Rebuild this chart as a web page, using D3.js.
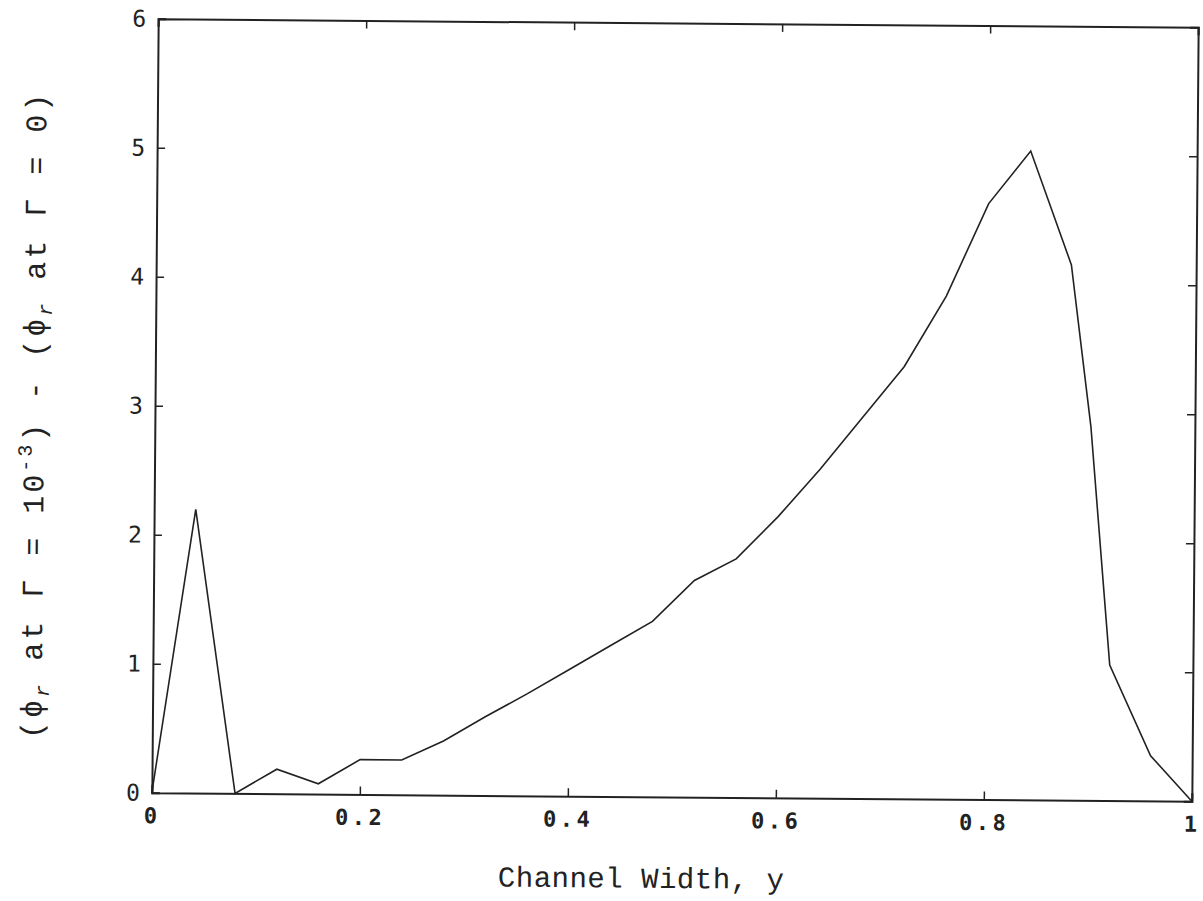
<!DOCTYPE html>
<html>
<head>
<meta charset="utf-8">
<script src="https://cdn.jsdelivr.net/npm/d3@7"></script>
<style>
  body { margin: 0; background: #fff; }
  .tickX text { font-family: "DejaVu Sans Mono", monospace; font-size: 22px; font-weight: bold; letter-spacing: 3.5px; fill: #222; }
  .tickY text { font-family: "DejaVu Sans Mono", monospace; font-size: 23px; fill: #222; }
  .axisTitle { font-family: "Liberation Mono", "Courier New", monospace; font-size: 29px; fill: #222; }
</style>
</head>
<body>
<div id="chart"></div>
<script>
// channel width positions and the difference in phi_r
const widthPos = [0, 0.04, 0.08, 0.12, 0.16, 0.20, 0.24, 0.28, 0.32, 0.36, 0.40, 0.44, 0.48,
                  0.52, 0.56, 0.60, 0.64, 0.68, 0.72, 0.76, 0.80, 0.84, 0.88, 0.90, 0.92, 0.96, 1.0];
const phiDiff  = [0, 2.2, 0, 0.19, 0.08, 0.27, 0.27, 0.42, 0.61, 0.79, 0.98, 1.17, 1.36,
                  1.68, 1.85, 2.18, 2.55, 2.95, 3.35, 3.9, 4.62, 5.03, 4.15, 2.9, 1.05, 0.35, 0];
const xTicks = [0, 0.2, 0.4, 0.6, 0.8, 1];
const yTicks = [0, 1, 2, 3, 4, 5, 6];

let margin = {top: 23, right: 8, bottom: 104, left: 155},
    width = 1195 - margin.left,
    height = 797 - margin.top;

let svg = d3.select("#chart")
    .append("svg")
    .attr("width", 1203)
    .attr("height", 901);

// the scan is a little skewed, so turn everything slightly
let root = svg.append("g")
    .attr("transform", "rotate(0.47, 675, 410)");

let g = root.append("g")
    .attr("transform", `translate(${margin.left}, ${margin.top})`);

let x = d3.scaleLinear().domain([0, 1]).range([0, width]);
let y = d3.scaleLinear().domain([0, 6]).range([height, 0]);

// bottom axis with labels
g.append("g")
    .attr("class", "tickX")
    .attr("transform", `translate(0, ${height})`)
    .call(d3.axisBottom(x).tickValues(xTicks).tickSize(-8).tickPadding(15)
        .tickFormat(d => d === 0 ? "0" : d === 1 ? "1" : d3.format(".1f")(d)));
// top axis, ticks only
g.append("g")
    .attr("class", "tickX")
    .call(d3.axisTop(x).tickValues(xTicks).tickSize(-8).tickFormat(""));

g.append("g")
    .attr("class", "tickY")
    .call(d3.axisLeft(y).tickValues(yTicks).tickSize(-8).tickPadding(12).tickFormat(d3.format("d")));
g.append("g")
    .attr("class", "tickY")
    .attr("transform", `translate(${width}, 0)`)
    .call(d3.axisRight(y).tickValues(yTicks).tickSize(-8).tickFormat(""));

g.selectAll(".domain").attr("stroke", "#222").attr("stroke-width", 2);
g.selectAll(".tick line").attr("stroke", "#222").attr("stroke-width", 1.5);

// the curve
let line = d3.line()
    .x((d, i) => x(widthPos[i]))
    .y(d => y(d));

g.append("path")
    .datum(phiDiff)
    .attr("d", line)
    .attr("fill", "none")
    .attr("stroke", "#222")
    .attr("stroke-width", 1.6);

// axis titles
g.append("text")
    .attr("class", "axisTitle")
    .attr("x", width / 2 - 30)
    .attr("y", height + 91)
    .attr("text-anchor", "middle")
    .style("letter-spacing", "0.5px")
    .text("Channel Width, y");

let yTitle = root.append("text")
    .attr("class", "axisTitle")
    .attr("text-anchor", "middle")
    .style("font-size", "30px")
    .style("letter-spacing", "3px")
    .attr("transform", "translate(44, 420) rotate(-90)");
yTitle.append("tspan").text("(\u03d5");
yTitle.append("tspan").attr("font-size", "20px").attr("dy", 7).attr("font-style", "italic").text("r");
yTitle.append("tspan").attr("dy", -7).text(" at \u0393 = 10");
yTitle.append("tspan").attr("font-size", "20px").attr("dy", -12).text("-3");
yTitle.append("tspan").attr("dy", 12).text(")  -  (\u03d5");
yTitle.append("tspan").attr("font-size", "20px").attr("dy", 7).attr("font-style", "italic").text("r");
yTitle.append("tspan").attr("dy", -7).text(" at \u0393 = 0)");
</script>
</body>
</html>
